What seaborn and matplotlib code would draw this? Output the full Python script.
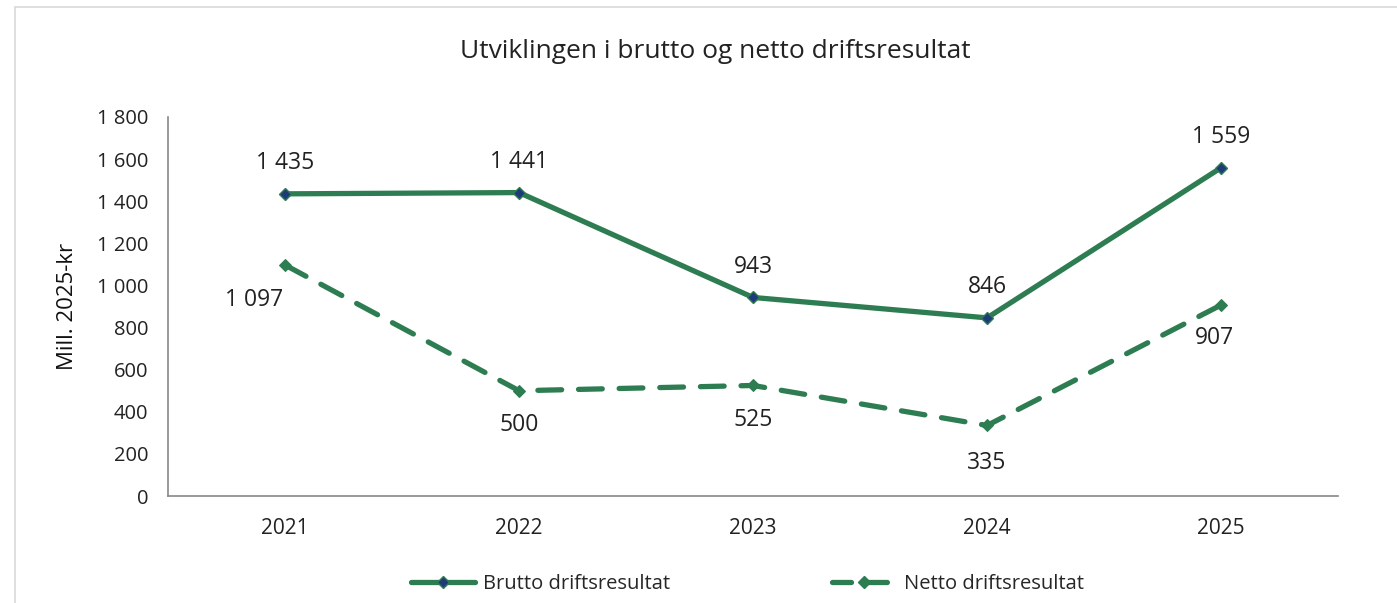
import matplotlib
matplotlib.use("Agg")
import matplotlib.pyplot as plt
import seaborn as sns
import pandas as pd
from matplotlib.ticker import FuncFormatter, FixedLocator
from matplotlib.patches import Rectangle
from matplotlib.lines import Line2D

years = ["2021", "2022", "2023", "2024", "2025"]
brutto = [1435, 1441, 943, 846, 1559]
netto = [1097, 500, 525, 335, 907]
series_names = ["Brutto driftsresultat", "Netto driftsresultat"]

sns.set_theme(style="white")
plt.rcParams['font.family'] = ['Open Sans', 'DejaVu Sans']

green = "#2E7D52"
navy = "#1F3A7A"

df = pd.DataFrame({
    "x": list(range(len(years))) * 2,
    "value": brutto + netto,
    "serie": [series_names[0]] * len(years) + [series_names[1]] * len(years),
})

fig = plt.figure(figsize=(13.97, 6.03), dpi=100)
ax = fig.add_axes([0.1203, 0.1774, 0.8375, 0.6286])

b = df[df.serie == series_names[0]]
n = df[df.serie == series_names[1]]
sns.lineplot(data=b, x="x", y="value", ax=ax, color=green, linewidth=3.8,
             marker="D", markersize=6, markerfacecolor=navy, markeredgecolor=green,
             markeredgewidth=1, legend=False)
sns.lineplot(data=n, x="x", y="value", ax=ax, color=green, linewidth=3.8,
             marker="D", markersize=6, markerfacecolor=green, markeredgecolor=green,
             legend=False)
ax.lines[1].set_dashes((4.5, 3.2))
ax.lines[1].set_dash_capstyle("round")
ax.lines[0].set_solid_capstyle("round")

ax.set_xlim(-0.5, len(years) - 0.5)
ax.set_ylim(0, 1800)
ax.yaxis.set_major_locator(FixedLocator(range(0, 1801, 200)))
fmt = lambda v: f"{int(v):,}".replace(",", " ")
ax.yaxis.set_major_formatter(FuncFormatter(lambda v, p: fmt(v)))
ax.set_xticks(range(len(years)))
ax.set_xticklabels(years)
ax.set_xticks([i - 0.5 for i in range(len(years) + 1)], minor=True)
ax.tick_params(axis="x", which="major", length=0, labelsize=15, pad=16, colors="#222222")
ax.tick_params(axis="x", which="minor", length=6, width=1, color="#888888", direction="out")
ax.tick_params(axis="y", length=6, width=1, color="#888888", direction="out", labelsize=14.5,
               colors="#222222", pad=8)
for s in ["top", "right"]:
    ax.spines[s].set_visible(False)
for s in ["left", "bottom"]:
    ax.spines[s].set_color("#888888")
    ax.spines[s].set_linewidth(1.2)
ax.set_xlabel("")
ax.set_ylabel("Mill. 2025-kr", fontsize=16, color="#111111", labelpad=14)

# data labels
boff = [(0, 22), (0, 22), (0, 22), (0, 22), (0, 22)]
noff = [(-22, -25), (0, -25), (0, -25), (0, -27), (-5, -24)]
for i, v in enumerate(brutto):
    ax.annotate(fmt(v), (i, v), xytext=boff[i], textcoords="offset points",
                ha="center", va="center", fontsize=16.5, color="#222222")
for i, v in enumerate(netto):
    ax.annotate(fmt(v), (i, v), xytext=noff[i], textcoords="offset points",
                ha="center", va="center", fontsize=16.5, color="#222222")

fig.text(0.512, 0.915, "Utviklingen i brutto og netto driftsresultat", ha="center",
         va="center", fontsize=19, color="#222222")

h1 = Line2D([], [], color=green, linewidth=3.8, marker="D", markersize=6,
            markerfacecolor=navy, markeredgecolor=green, solid_capstyle="round")
h2 = Line2D([], [], color=green, linewidth=3.8, marker="D", markersize=6,
            markerfacecolor=green, markeredgecolor=green,
            linestyle=(0, (3.6, 3.2)), dash_capstyle="round")
leg = fig.legend([h1, h2], series_names, loc="center", bbox_to_anchor=(0.535, 0.032),
                 ncol=2, frameon=False, fontsize=14.5, handlelength=3.2,
                 columnspacing=8, handletextpad=0.4)

fig.patches.append(Rectangle((0.0105, -0.01), 0.99, 0.998, transform=fig.transFigure,
                             fill=False, edgecolor="#D9D9D9", linewidth=1.2))

fig.savefig("out.png", dpi=100)
